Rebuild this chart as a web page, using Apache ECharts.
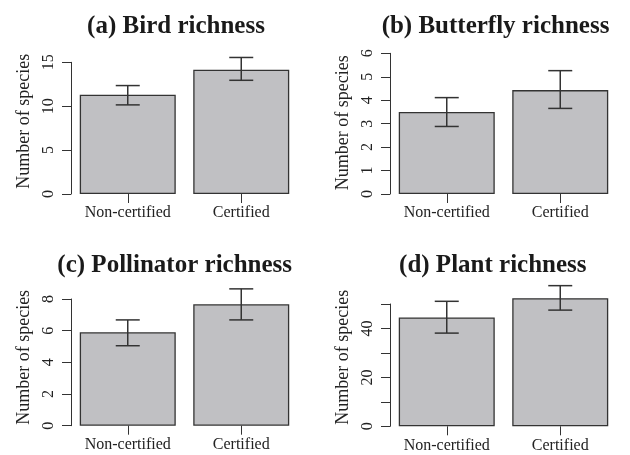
<!DOCTYPE html>
<html>
<head>
<meta charset="utf-8">
<script src="https://cdn.jsdelivr.net/npm/echarts@6/dist/echarts.min.js"></script>
<style>
html,body{margin:0;padding:0;background:#fff;}
#chart{width:630px;height:455px;}
</style>
</head>
<body>
<div id="chart"></div>
<script>
const categories = ['Non-certified', 'Certified'];

const titles = ['(a) Bird richness', '(b) Butterfly richness', '(c) Pollinator richness', '(d) Plant richness'];

const birdMean  = [11.3, 14.15];
const birdLower = [10.15, 12.95];
const birdUpper = [12.35, 15.55];

const butterflyMean  = [3.5, 4.43];
const butterflyLower = [2.88, 3.65];
const butterflyUpper = [4.11, 5.26];

const pollinatorMean  = [5.9, 7.67];
const pollinatorLower = [5.05, 6.68];
const pollinatorUpper = [6.68, 8.64];

const plantMean  = [44.5, 52.4];
const plantLower = [38.1, 47.5];
const plantUpper = [51.1, 57.5];

const yMax      = [15, 6, 8, 50];
const yInterval = [5, 1, 2, 10];
const yLabelStep = [5, 1, 2, 20];

const panels = [
  {mean: birdMean, lo: birdLower, hi: birdUpper},
  {mean: butterflyMean, lo: butterflyLower, hi: butterflyUpper},
  {mean: pollinatorMean, lo: pollinatorLower, hi: pollinatorUpper},
  {mean: plantMean, lo: plantLower, hi: plantUpper}
];

// layout (pixel geometry only)
const gridBoxes = [
  {left: 71,  top: 62.3, right: 332, bottom: 261},
  {left: 390, top: 53.3, right: 13,  bottom: 261},
  {left: 71,  top: 299,  right: 332, bottom: 29.3},
  {left: 390, top: 304,  right: 13,  bottom: 28.7}
];
const titlePos = [
  {x: 176, y: 14}, {x: 495.5, y: 14}, {x: 174.7, y: 253.5}, {x: 492.8, y: 253.5}
];
const nameShift = [14, 2, 10, 16];

const FONT = 'Liberation Serif, Times New Roman, serif';
const DARK = '#333333';

function errRender(params, api) {
  const x = api.value(0), lo = api.value(1), hi = api.value(2);
  const pLo = api.coord([x, lo]);
  const pHi = api.coord([x, hi]);
  const hw = 12;
  const style = {stroke: DARK, lineWidth: 1.5, fill: null};
  return {
    type: 'group',
    children: [
      {type: 'line', shape: {x1: pLo[0], y1: pLo[1], x2: pHi[0], y2: pHi[1]}, style: style},
      {type: 'line', shape: {x1: pLo[0] - hw, y1: pLo[1], x2: pLo[0] + hw, y2: pLo[1]}, style: style},
      {type: 'line', shape: {x1: pHi[0] - hw, y1: pHi[1], x2: pHi[0] + hw, y2: pHi[1]}, style: style}
    ]
  };
}

const grid = [], xAxis = [], yAxis = [], series = [], title = [];
panels.forEach(function (p, i) {
  grid.push(Object.assign({containLabel: false}, gridBoxes[i]));
  title.push({
    text: titles[i], left: titlePos[i].x, top: titlePos[i].y, textAlign: 'center', padding: 0,
    textStyle: {fontFamily: FONT, fontSize: 25, fontWeight: 'bold', color: '#1a1a1a'}
  });
  xAxis.push({
    type: 'category', gridIndex: i, data: categories,
    axisLine: {show: false},
    axisTick: {show: true, alignWithLabel: true, length: 9, lineStyle: {color: DARK, width: 1}},
    axisLabel: {fontFamily: FONT, fontSize: 16, color: '#222', margin: 11}
  });
  const step = yLabelStep[i];
  yAxis.push({
    type: 'value', gridIndex: i, min: 0, max: yMax[i], interval: yInterval[i],
    splitLine: {show: false},
    axisLine: {show: true, lineStyle: {color: DARK, width: 1}},
    axisTick: {show: true, length: 9, lineStyle: {color: DARK, width: 1}},
    axisLabel: {
      fontFamily: FONT, fontSize: 16, color: '#222', rotate: 90, margin: 14,
      formatter: function (v) { return (Math.round(v) % step === 0) ? String(v) : ''; }
    },
    name: 'Number of species', nameLocation: 'middle', nameGap: 38,
    nameTextStyle: {fontFamily: FONT, fontSize: 18, color: '#222', padding: [0, 0, 0, nameShift[i]]}
  });
  series.push({
    type: 'bar', xAxisIndex: i, yAxisIndex: i, data: p.mean, barWidth: 96, clip: false,
    itemStyle: {color: '#c0c0c3', borderColor: DARK, borderWidth: 1.3},
    emphasis: {disabled: true}, silent: true
  });
  series.push({
    type: 'custom', xAxisIndex: i, yAxisIndex: i, clip: false, silent: true,
    renderItem: errRender,
    encode: {x: 0, y: [1, 2]},
    data: categories.map(function (c, k) { return [k, p.lo[k], p.hi[k]]; }),
    z: 5
  });
});

const chart = echarts.init(document.getElementById('chart'), null, {renderer: 'canvas'});
chart.setOption({
  animation: false,
  backgroundColor: '#ffffff',
  title: title, grid: grid, xAxis: xAxis, yAxis: yAxis, series: series
});
</script>
</body>
</html>
